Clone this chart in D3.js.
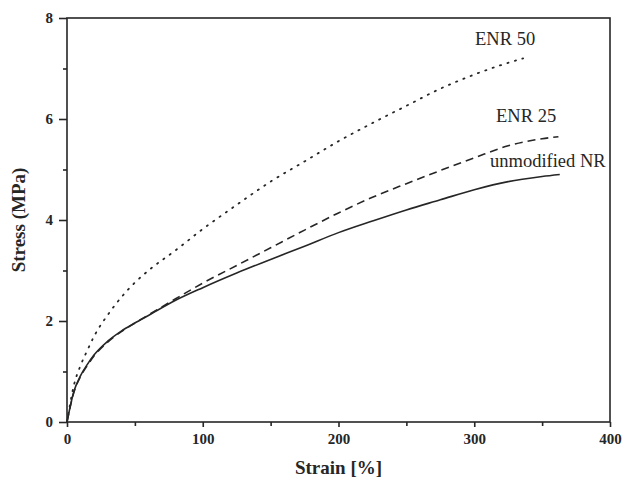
<!DOCTYPE html>
<html>
<head>
<meta charset="utf-8">
<script src="https://cdn.jsdelivr.net/npm/d3@7"></script>
<style>
  body { margin: 0; background: #fff; }
  #chart { width: 622px; height: 480px; }
</style>
</head>
<body>
<div id="chart"></div>
<script>
// strain [%] / stress [MPa]
const nrStrain = [0, 5, 10, 15, 20, 30, 40, 50, 60, 80, 100, 125, 150, 175, 200, 225, 250, 275, 300, 325, 350, 363];
const nrStress = [0, 0.6, 0.92, 1.14, 1.33, 1.6, 1.8, 1.96, 2.11, 2.41, 2.66, 2.95, 3.22, 3.48, 3.75, 3.98, 4.2, 4.4, 4.6, 4.76, 4.86, 4.9];

const enr25Strain = [0, 5, 10, 15, 20, 30, 40, 50, 60, 80, 100, 125, 150, 175, 200, 225, 250, 275, 300, 325, 350, 362];
const enr25Stress = [0, 0.58, 0.9, 1.12, 1.31, 1.58, 1.79, 1.96, 2.12, 2.44, 2.75, 3.1, 3.45, 3.8, 4.14, 4.45, 4.72, 4.98, 5.23, 5.47, 5.61, 5.65];

const enr50Strain = [0, 5, 10, 15, 20, 30, 40, 50, 60, 80, 100, 125, 150, 175, 200, 225, 250, 275, 300, 320, 336];
const enr50Stress = [0, 0.72, 1.12, 1.42, 1.7, 2.12, 2.47, 2.76, 3.0, 3.4, 3.82, 4.3, 4.76, 5.16, 5.56, 5.92, 6.26, 6.6, 6.88, 7.07, 7.2];

const xTicks = [0, 100, 200, 300, 400];
const xMinor = [50, 150, 250, 350];
const yTicks = [0, 2, 4, 6, 8];
const yMinor = [1, 3, 5, 7];

const series = [
  { name: "unmodified NR", x: nrStrain, y: nrStress, dash: null, dotted: false, lx: 490, ly: 167 },
  { name: "ENR 25", x: enr25Strain, y: enr25Stress, dash: "8,5", dotted: false, lx: 496, ly: 122 },
  { name: "ENR 50", x: enr50Strain, y: enr50Stress, dash: "1.2,6.6", dotted: true, lx: 475, ly: 45 },
];

const margin = { top: 18, right: 12, bottom: 58, left: 67 };
const W = 622, H = 480;
const width = W - margin.left - margin.right;
const height = H - margin.top - margin.bottom;
const ink = "#262626";
const serif = "'Liberation Serif', 'Times New Roman', serif";

const svg = d3.select("#chart").append("svg")
  .attr("width", W).attr("height", H);
const g = svg.append("g")
  .attr("transform", `translate(${margin.left},${margin.top})`);

const x = d3.scaleLinear().domain([0, 400]).range([0, width]);
const y = d3.scaleLinear().domain([0, 8]).range([height, 0]);

// frame
g.append("rect")
  .attr("width", width).attr("height", height)
  .attr("fill", "none").attr("stroke", ink).attr("stroke-width", 1.6);

const styleAxis = (sel) => {
  sel.select(".domain").remove();
  sel.selectAll("line").attr("stroke", ink).attr("stroke-width", 1.6);
  sel.selectAll("text")
    .attr("fill", ink)
    .attr("font-family", serif)
    .attr("font-weight", "bold")
    .attr("font-size", 15);
};

g.append("g").attr("transform", `translate(0,${height})`)
  .call(d3.axisBottom(x).tickValues(xMinor).tickSize(4).tickFormat(""))
  .call(styleAxis);
g.append("g").attr("transform", `translate(0,${height})`)
  .call(d3.axisBottom(x).tickValues(xTicks).tickSize(5).tickPadding(6).tickFormat(d3.format("d")))
  .call(styleAxis);

g.append("g")
  .call(d3.axisLeft(y).tickValues(yMinor).tickSize(4).tickFormat(""))
  .call(styleAxis);
g.append("g")
  .call(d3.axisLeft(y).tickValues(yTicks).tickSize(8).tickPadding(6).tickFormat(d3.format("d")))
  .call(styleAxis);

// curves
const line = d3.line()
  .x((d) => x(d[0]))
  .y((d) => y(d[1]))
  .curve(d3.curveMonotoneX);

series.forEach((s) => {
  const pts = s.x.map((v, i) => [v, s.y[i]]);
  g.append("path")
    .datum(pts)
    .attr("d", line)
    .attr("fill", "none")
    .attr("stroke", ink)
    .attr("stroke-width", s.dotted ? 1.8 : 1.6)
    .attr("stroke-linecap", s.dotted ? "round" : "butt")
    .attr("stroke-dasharray", s.dash);

  svg.append("text")
    .attr("x", s.lx).attr("y", s.ly)
    .attr("fill", ink)
    .attr("font-family", serif)
    .attr("font-size", 18.5)
    .text(s.name);
});

// axis titles
svg.append("text")
  .attr("x", margin.left + width / 2).attr("y", 474)
  .attr("text-anchor", "middle")
  .attr("fill", ink).attr("font-family", serif)
  .attr("font-weight", "bold").attr("font-size", 19)
  .text("Strain [%]");

svg.append("text")
  .attr("transform", `translate(25,${margin.top + height / 2}) rotate(-90)`)
  .attr("text-anchor", "middle")
  .attr("fill", ink).attr("font-family", serif)
  .attr("font-weight", "bold").attr("font-size", 19)
  .text("Stress (MPa)");
</script>
</body>
</html>
